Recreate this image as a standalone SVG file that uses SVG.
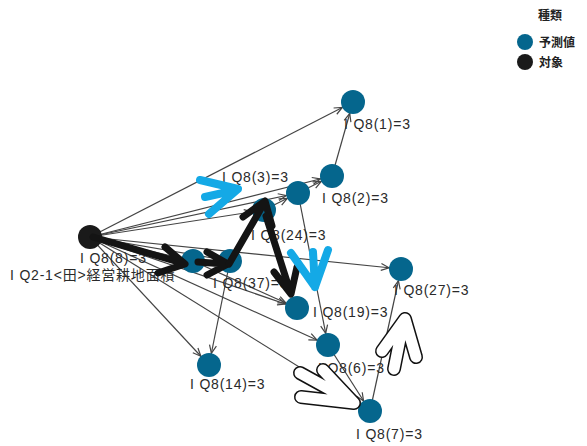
<svg xmlns="http://www.w3.org/2000/svg" width="587" height="446" viewBox="0 0 587 446">
<style>
.e{stroke:#444;stroke-width:1.2;fill:none;marker-end:url(#ah)}
.n{fill:#05668d}
.s{fill:#1a1a1a}
.l{font-family:"Liberation Sans","Noto Sans CJK JP",sans-serif;font-size:14px;fill:#2a2a2a;letter-spacing:0.8px}
.lg{font-family:"Noto Sans CJK JP","Liberation Sans",sans-serif;font-size:12px;font-weight:bold;fill:#222}
.bk{stroke:#141414;stroke-width:7;fill:none;stroke-linecap:round;stroke-linejoin:round}
.bl{stroke:#14a9e6;stroke-width:8;fill:none;stroke-linecap:round;stroke-linejoin:round}
.wo{stroke:#111;stroke-width:14;fill:none;stroke-linecap:round;stroke-linejoin:round}
.wi{stroke:#fff;stroke-width:11;fill:none;stroke-linecap:round;stroke-linejoin:round}
</style>
<defs>
<marker id="ah" markerUnits="userSpaceOnUse" markerWidth="10" markerHeight="10" refX="20" refY="4" orient="auto" overflow="visible">
<path d="M0,0.5 L8,4 L0,7.5" stroke="#444" stroke-width="1.2" fill="none"/>
</marker>
</defs>
<rect width="587" height="446" fill="#fff"/>
<g id="connectors">
<line class="e" x1="90" y1="237" x2="353" y2="102"/>
<line class="e" x1="90" y1="237" x2="332" y2="176"/>
<line class="e" x1="90" y1="237" x2="298" y2="193"/>
<line class="e" x1="90" y1="237" x2="264" y2="210"/>
<line class="e" x1="90" y1="237" x2="193" y2="261"/>
<line class="e" x1="90" y1="237" x2="230" y2="261"/>
<line class="e" x1="90" y1="237" x2="401" y2="269"/>
<line class="e" x1="90" y1="237" x2="297" y2="308"/>
<line class="e" x1="90" y1="237" x2="328" y2="345"/>
<line class="e" x1="90" y1="237" x2="370" y2="411"/>
<line class="e" x1="90" y1="237" x2="209" y2="365"/>
<line class="e" x1="332" y1="176" x2="353" y2="102"/>
<line class="e" x1="264" y1="210" x2="298" y2="193"/>
<line class="e" x1="298" y1="193" x2="332" y2="176"/>
<line class="e" x1="298" y1="193" x2="328" y2="345"/>
<line class="e" x1="230" y1="261" x2="209" y2="365"/>
<line class="e" x1="328" y1="345" x2="370" y2="411"/>
<line class="e" x1="370" y1="411" x2="401" y2="269"/>
<line class="e" x1="193" y1="261" x2="297" y2="308"/>
</g>
<g id="n-src"><circle class="s" cx="90" cy="237" r="12"/><text class="l" x="10" y="280">I Q2-1&lt;田&gt;経営耕地面積</text></g>
<g id="n-q8-1"><circle class="n" cx="353" cy="102" r="12"/><text class="l" x="344" y="129">I Q8(1)=3</text></g>
<g id="n-q8-2"><circle class="n" cx="332" cy="176" r="12"/><text class="l" x="322" y="203">I Q8(2)=3</text></g>
<g id="n-q8-3"><circle class="n" cx="298" cy="193" r="12"/><text class="l" x="222" y="182">I Q8(3)=3</text></g>
<g id="n-q8-24"><circle class="n" cx="264" cy="210" r="12"/><text class="l" x="251" y="240">I Q8(24)=3</text></g>
<g id="n-q8-8"><circle class="n" cx="193" cy="261" r="12"/><text class="l" x="80" y="263">I Q8(8)=3</text></g>
<g id="n-q8-37"><circle class="n" cx="230" cy="261" r="12"/><text class="l" x="213" y="288">I Q8(37)=3</text></g>
<g id="n-q8-19"><circle class="n" cx="297" cy="308" r="12"/><text class="l" x="313" y="317">I Q8(19)=3</text></g>
<g id="n-q8-27"><circle class="n" cx="401" cy="269" r="12"/><text class="l" x="394" y="295">I Q8(27)=3</text></g>
<g id="n-q8-6"><circle class="n" cx="328" cy="345" r="12"/><text class="l" x="318" y="373">I Q8(6)=3</text></g>
<g id="n-q8-14"><circle class="n" cx="209" cy="365" r="12"/><text class="l" x="190" y="389">I Q8(14)=3</text></g>
<g id="n-q8-7"><circle class="n" cx="370" cy="411" r="12"/><text class="l" x="356" y="439">I Q8(7)=3</text></g>
<g id="annotations">
<path class="bk" d="M93,237 L182,263 M165,247 L185,264 L158,273"/>
<path class="bk" d="M198,262 L225,264 M207,252 L228,264 L207,275"/>
<path class="bk" d="M229,264 L263,205 M243,217 L265,201 L272,226"/>
<path class="bk" d="M266,216 L290,291 M274,272 L291,294 L297,267"/>
<path class="bl" d="M200,180 L238,189 L209,214 M205,197 L232,191"/>
<path class="bl" d="M291,253 L315,287 L328,250 M313,252 L315,287"/>
<path class="wo" d="M323,370 L354,403 L301,397 M300,373 L349,400"/>
<path class="wi" d="M323,370 L354,403 L301,397 M300,373 L349,400"/>
<path class="wo" d="M382,351 L405,319 L416,357 M403,324 L394,369"/>
<path class="wi" d="M382,351 L405,319 L416,357 M403,324 L394,369"/>
</g>
<g id="legend">
<text class="lg" x="538" y="20">種類</text>
<circle class="n" cx="525" cy="42" r="8"/>
<text class="lg" x="539" y="47">予測値</text>
<circle class="s" cx="525" cy="62" r="8"/>
<text class="lg" x="539" y="67">対象</text>
</g>
</svg>
